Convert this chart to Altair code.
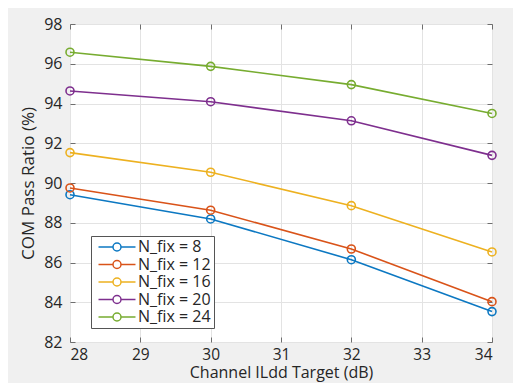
import altair as alt
import pandas as pd

x_vals = [28, 30, 32, 34]
series_names = ["N_fix = 8", "N_fix = 12", "N_fix = 16", "N_fix = 20", "N_fix = 24"]
nfix8 = [89.41, 88.19, 86.14, 83.53]
nfix12 = [89.75, 88.63, 86.68, 84.03]
nfix16 = [91.53, 90.54, 88.86, 86.53]
nfix20 = [94.63, 94.09, 93.13, 91.39]
nfix24 = [96.58, 95.87, 94.95, 93.50]
colors = ["#0c78c2", "#D95319", "#EDB120", "#7E2F8E", "#77AC30"]
x_ticks = [28, 29, 30, 31, 32, 33, 34]
y_ticks = [82, 84, 86, 88, 90, 92, 94, 96, 98]

rows = []
for name, vals in zip(series_names, [nfix8, nfix12, nfix16, nfix20, nfix24]):
    for xv, yv in zip(x_vals, vals):
        rows.append({"x": xv, "y": yv, "series": name})
df = pd.DataFrame(rows)

FONT = "Open Sans"
TXT = "#262626"
FRAME = "#6e6e6e"

xs = alt.Scale(domain=[28, 34], nice=False, zero=False)
ys = alt.Scale(domain=[82, 98], nice=False, zero=False)

x_axis = alt.Axis(values=x_ticks, format="d", title="Channel ILdd Target (dB)",
                  grid=True, gridColor="#e3e3e3", domain=False, labelOverlap=False,
                  ticks=True, tickSize=5, offset=-5, tickColor=FRAME,
                  labelPadding=5, labelFontSize=15.5, labelColor=TXT, labelFont=FONT,
                  titleFont=FONT, titleFontSize=16, titleFontWeight="normal",
                  titleColor=TXT, titlePadding=2)
y_axis = alt.Axis(values=y_ticks, format="d", title="COM Pass Ratio (%)",
                  grid=True, gridColor="#e3e3e3", domain=False, labelOverlap=False,
                  ticks=True, tickSize=5, offset=-5, tickColor=FRAME,
                  labelPadding=8, labelFontSize=16, labelColor=TXT, labelFont=FONT,
                  titleFont=FONT, titleFontSize=17, titleFontWeight="normal",
                  titleColor=TXT, titlePadding=6)

sym_path = ("M-3,0L-0.65,0M0.65,0L3,0"
            "M0.65,0A0.65,0.65,0,1,1,-0.65,0A0.65,0.65,0,1,1,0.65,0")

color = alt.Color("series:N", sort=series_names,
                  scale=alt.Scale(domain=series_names, range=colors),
                  legend=alt.Legend(title=None, orient="none", legendX=21, legendY=212,
                                    symbolType=sym_path, symbolSize=152,
                                    symbolStrokeWidth=1.5, symbolFillColor="transparent",
                                    symbolOffset=15, labelOffset=13,
                                    labelFont=FONT, labelFontSize=16, labelColor=TXT,
                                    rowPadding=1.5, padding=3,
                                    fillColor="white", strokeColor="#555555"))

X = alt.X("x:Q", scale=xs, axis=x_axis)
Y = alt.Y("y:Q", scale=ys, axis=y_axis)

base = alt.Chart(df)
line = base.mark_line(strokeWidth=1.6).encode(x=X, y=Y, color=color)
pts = base.mark_point(shape="circle", filled=False, size=64, strokeWidth=1.6, opacity=1).encode(
    x=X, y=Y, color=color)

# top/right inward ticks
x_top = alt.Axis(values=x_ticks, orient="top", labels=False, title=None, grid=False,
                 domain=False, tickSize=5, offset=-5, tickColor=FRAME)
y_right = alt.Axis(values=y_ticks, orient="right", labels=False, title=None, grid=False,
                   domain=False, tickSize=5, offset=-5, tickColor=FRAME)
frame = base.mark_point(opacity=0).encode(
    x=alt.X("x:Q", scale=xs, axis=x_top),
    y=alt.Y("y:Q", scale=ys, axis=y_right),
)

main = alt.layer(line, pts)
chart = alt.layer(main, frame).resolve_scale(x="independent", y="independent").properties(
    width=422, height=318,
    padding={"left": 62, "top": 16, "right": 21, "bottom": 41},
    autosize=alt.AutoSizeParams(type="none"),
    background="#f0f0f0",
).configure_view(fill="white", stroke=FRAME, strokeWidth=1)

chart.save("out.html", embed_options={"renderer": "svg", "actions": False})
